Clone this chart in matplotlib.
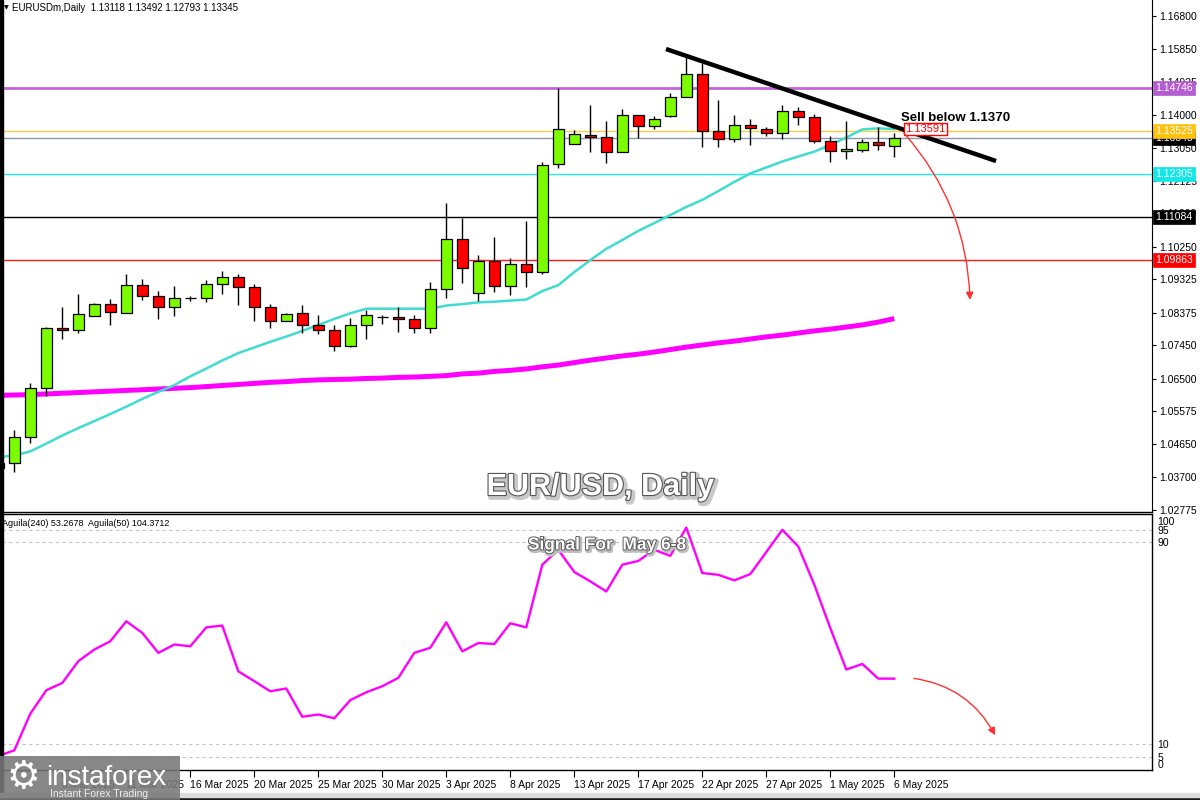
import matplotlib
matplotlib.use("Agg")
import matplotlib.pyplot as plt
import matplotlib.patheffects as pe
from matplotlib.patches import Rectangle, FancyArrowPatch
import matplotlib.transforms as mtransforms
import numpy as np

plt.rcParams['font.family'] = ['Liberation Sans', 'DejaVu Sans']

# ---------------- data ----------------
# candle index -1 is the partially visible first bar
opens = [1.0397, 1.0410, 1.0484, 1.0623, 1.0793, 1.0788, 1.0829, 1.0862, 1.0838, 1.0915,
         1.0886, 1.0855, 1.0880, 1.0880, 1.0918, 1.0938, 1.0911, 1.0853, 1.0813, 1.0836,
         1.0803, 1.0788, 1.0742, 1.0802, 1.0826, 1.0825, 1.0819, 1.0793, 1.0904, 1.1046,
         1.0893, 1.0984, 1.0914, 1.0977, 1.0952, 1.1259, 1.1316, 1.1343, 1.1336, 1.1295,
         1.1398, 1.1369, 1.1395, 1.1449, 1.1515, 1.1353, 1.1330, 1.1371, 1.1360, 1.1347,
         1.1409, 1.1392, 1.1324, 1.1296, 1.1299, 1.1321, 1.13118]
highs = [1.0418, 1.0505, 1.0637, 1.0796, 1.0855, 1.0891, 1.0864, 1.0877, 1.0947, 1.0932,
         1.0899, 1.0914, 1.0885, 1.0931, 1.0956, 1.0947, 1.0918, 1.0862, 1.0837, 1.0860,
         1.0831, 1.0803, 1.0823, 1.0845, 1.0830, 1.0853, 1.0831, 1.0925, 1.1149, 1.1107,
         1.1001, 1.1053, 1.0992, 1.1098, 1.1266, 1.1475, 1.1356, 1.1427, 1.1382, 1.1416,
         1.1399, 1.1397, 1.1461, 1.1564, 1.1546, 1.1442, 1.1398, 1.1388, 1.1366, 1.1426,
         1.1421, 1.1402, 1.1340, 1.1382, 1.1331, 1.1366, 1.13492]
lows = [1.0390, 1.0386, 1.0469, 1.0602, 1.0763, 1.0781, 1.0829, 1.0803, 1.0836, 1.0874,
        1.0820, 1.0828, 1.0872, 1.0869, 1.0891, 1.0860, 1.0815, 1.0795, 1.0813, 1.0781,
        1.0776, 1.0730, 1.0739, 1.0764, 1.0805, 1.0784, 1.0779, 1.0779, 1.0880, 1.0923,
        1.0871, 1.0897, 1.0889, 1.0911, 1.0948, 1.1248, 1.1316, 1.1295, 1.1264, 1.1293,
        1.1334, 1.1358, 1.1392, 1.1449, 1.1309, 1.1309, 1.1321, 1.1315, 1.1340, 1.1330,
        1.1371, 1.1319, 1.1266, 1.1275, 1.1293, 1.1299, 1.12793]
closes = [1.0411, 1.0484, 1.0623, 1.0793, 1.0788, 1.0833, 1.0862, 1.0839, 1.0915, 1.0886,
          1.0855, 1.0879, 1.0880, 1.0918, 1.0938, 1.0911, 1.0853, 1.0815, 1.0835, 1.0802,
          1.0788, 1.0742, 1.0802, 1.0830, 1.0826, 1.0819, 1.0793, 1.0904, 1.1046, 1.0964,
          1.0984, 1.0914, 1.0977, 1.0952, 1.1258, 1.1358, 1.1344, 1.1337, 1.1295, 1.1398,
          1.1369, 1.1387, 1.1449, 1.1515, 1.1353, 1.1330, 1.1371, 1.1363, 1.1347, 1.1409,
          1.1392, 1.1324, 1.1296, 1.1302, 1.1321, 1.1313, 1.13345]
ma_fast = [1.0428, 1.0432, 1.0444, 1.0466, 1.0489, 1.0510, 1.0530, 1.0550, 1.0571, 1.0593,
           1.0613, 1.0632, 1.0657, 1.0679, 1.0702, 1.0723, 1.0739, 1.0755, 1.0770, 1.0786,
           1.0803, 1.0820, 1.0836, 1.0849, 1.0849, 1.0849, 1.0849, 1.0849, 1.0858, 1.0862,
           1.0867, 1.0869, 1.0872, 1.0875, 1.0899, 1.0916, 1.0953, 1.0987, 1.1019, 1.1044,
           1.1070, 1.1092, 1.1115, 1.1138, 1.1158, 1.1183, 1.1209, 1.1233, 1.1250, 1.1267,
           1.1281, 1.1295, 1.1314, 1.1335, 1.1358, 1.1361, 1.1359]
ma_slow = [1.0603, 1.0604, 1.0605, 1.0607, 1.0609, 1.0611, 1.0613, 1.0615, 1.0617, 1.0619,
           1.0621, 1.0623, 1.0625, 1.0628, 1.0631, 1.0634, 1.0637, 1.0640, 1.0642, 1.0645,
           1.0647, 1.0648, 1.0649, 1.0651, 1.0652, 1.0654, 1.0655, 1.0657, 1.0659, 1.0664,
           1.0666, 1.0671, 1.0674, 1.0678, 1.0684, 1.0689, 1.0696, 1.0703, 1.0709, 1.0715,
           1.0720, 1.0726, 1.0733, 1.0740, 1.0746, 1.0752, 1.0757, 1.0763, 1.0769, 1.0774,
           1.0780, 1.0786, 1.0791, 1.0797, 1.0803, 1.0811, 1.0821]
aguila = [5.4, 7.6, 22.1, 31.4, 34.3, 42.9, 47.5, 50.8, 58.7, 54.1,
          46.2, 49.5, 48.8, 56.3, 57.0, 38.9, 35.0, 31.0, 32.1, 20.9,
          21.8, 20.3, 27.5, 30.6, 33.0, 36.3, 46.2, 48.2, 58.3, 46.8,
          50.1, 49.7, 57.9, 56.3, 81.1, 87.0, 78.2, 74.5, 70.5, 81.1,
          82.6, 87.0, 84.6, 95.8, 77.8, 77.1, 74.9, 77.4, 86.1, 94.9,
          88.3, 73.2, 56.0, 39.6, 41.8, 36.0, 36.0]

price_ticks = [1.16800, 1.15850, 1.14925, 1.14000, 1.13050, 1.12125, 1.11200, 1.10250,
               1.09325, 1.08375, 1.07450, 1.06500, 1.05575, 1.04650, 1.03700, 1.02775]
level_prices = [1.14746, 1.13525, 1.13345, 1.12305, 1.11084, 1.09863]
level_line_colors = ['#c266d6', '#f5cf45', '#8a97ad', '#22eeee', '#000000', '#ff1a1a']
level_box_colors = ['#b45cd2', '#ffc20e', '#000000', '#12e6e6', '#000000', '#ff0000']
level_box_z = [10, 12, 11, 10, 10, 10]
date_ticks = [3, 7, 11, 15, 19, 23, 27, 31, 35, 39, 43, 47, 51, 55]
date_labels = ['6 Mar 2025', '11 Mar 2025', '16 Mar 2025', '20 Mar 2025', '25 Mar 2025',
               '30 Mar 2025', '3 Apr 2025', '8 Apr 2025', '13 Apr 2025', '17 Apr 2025',
               '22 Apr 2025', '27 Apr 2025', '1 May 2025', '6 May 2025']
ind_levels = [95, 90, 10, 5]
ind_ticks = [0, 5, 10, 90, 95, 100]

ma_label_value = 1.13591
trend_x = [40.73, 61.36]
trend_y = [1.15863, 1.12683]
sell_text_pos = (55.42, 1.13904)
arrow_main = ((55.6, 1.1348), (59.73, 1.0874))
arrow_ind = ((56.23, 36.1), (61.3, 13.6))

# ---------------- figure ----------------
W, H = 1200, 800
fig = plt.figure(figsize=(12, 8), dpi=100, facecolor='white')

def fx(px):
    return px / W

def fy(py):
    return 1 - py / H

left_px, right_px = 2, 1152
ax1 = fig.add_axes([fx(left_px), fy(511.5), fx(right_px - left_px), 511.5 / H])
ax2 = fig.add_axes([fx(left_px), fy(770), fx(right_px - left_px), (770 - 514) / H])

x = np.arange(-1, len(opens) - 1)
xlim = ((left_px - 14.3) / 16.0, (right_px - 14.3) / 16.0)

# ----- main panel -----
ax1.set_xlim(*xlim)
ax1.set_ylim(1.02733, 1.172542)
for sp in ['top', 'left']:
    ax1.spines[sp].set_visible(False)
ax1.spines['bottom'].set_color('black')
ax1.spines['right'].set_color('black')
ax1.spines['bottom'].set_linewidth(1.0)

for p, c in zip(level_prices, level_line_colors):
    lw = 2.0 if p == level_prices[0] else 1.0
    ax1.axhline(p, color=c, lw=lw, zorder=1)

ax1.plot(x, ma_slow, color='#ff00ff', lw=3.6, zorder=2, solid_capstyle='butt')
ax1.plot(x, ma_fast, color='#40dccf', lw=1.8, zorder=2)

o = np.array(opens); c = np.array(closes); hi = np.array(highs); lo = np.array(lows)
ax1.vlines(x, lo, hi, color='black', lw=1.0, zorder=3)
body_bottom = np.minimum(o, c)
body_h = np.abs(c - o)
colors = np.where(c > o, '#7cfc00', np.where(c < o, '#ff0000', 'black'))
ax1.bar(x, body_h, bottom=body_bottom, width=0.66, color=colors, edgecolor='black',
        linewidth=0.9, zorder=4)

ax1.plot(trend_x, trend_y, color='black', lw=3.2, zorder=6, solid_capstyle='butt')

ax1.text(sell_text_pos[0], sell_text_pos[1], 'Sell below 1.1370', fontsize=9.5,
         fontweight='bold', color='black', ha='left', va='center', zorder=7)
ax1.text(55.7, ma_label_value, '1.13591', fontsize=8, color='#ff0000', ha='left',
         va='center', zorder=7,
         bbox=dict(boxstyle='square,pad=0.1', fc='white', ec='#ff0000', lw=1))

arr1 = FancyArrowPatch(arrow_main[0], arrow_main[1], connectionstyle='arc3,rad=-0.18',
                       arrowstyle='-|>', mutation_scale=11, color='#ff3030', lw=1.0,
                       shrinkA=0, shrinkB=0, zorder=7)
ax1.add_patch(arr1)

ax1.set_xticks([])
ax1.yaxis.tick_right()
ax1.set_yticks(price_ticks)
ax1.set_yticklabels([f'{t:.5f}' for t in price_ticks])
ax1.tick_params(axis='y', direction='out', length=3, width=0.8, pad=2, labelsize=7.5,
                colors='black')

trans1 = mtransforms.blended_transform_factory(ax1.transAxes, ax1.transData)
for p, bc, z in zip(level_prices, level_box_colors, level_box_z):
    ax1.text(1.0 + 3.5 / 1150, p, f'{p:.5f}', transform=trans1, fontsize=7.5,
             color='white', ha='left', va='center', clip_on=False, zorder=z,
             bbox=dict(boxstyle='square,pad=0.2', fc=bc, ec=bc, lw=0.5))

# ----- indicator panel -----
ax2.set_xlim(*xlim)
ax2.set_ylim(-0.17, 101.17)
ax2.spines['left'].set_visible(False)
for sp in ['top', 'bottom', 'right']:
    ax2.spines[sp].set_color('black')
    ax2.spines[sp].set_linewidth(1.0)
for v in ind_levels:
    ax2.axhline(v, color='#c4c4c4', lw=0.8, ls=(0, (3, 3)), zorder=1)
ax2.plot(x, aguila, color='#ff00ff', lw=1.7, zorder=3)

arr2 = FancyArrowPatch(arrow_ind[0], arrow_ind[1], connectionstyle='arc3,rad=-0.25',
                       arrowstyle='-|>', mutation_scale=11, color='#ff3030', lw=1.0,
                       shrinkA=0, shrinkB=0, zorder=7)
ax2.add_patch(arr2)

ax2.yaxis.tick_right()
ax2.set_yticks(ind_ticks)
ax2.set_yticklabels([str(t) for t in ind_ticks])
ax2.tick_params(axis='y', direction='out', length=0, pad=4, labelsize=7.5)
for lbl in ax2.get_yticklabels():
    if lbl.get_text() == '100':
        lbl.set_va('top')
    elif lbl.get_text() == '0':
        lbl.set_va('bottom')

ax2.set_xticks(date_ticks)
ax2.set_xticklabels(date_labels)
ax2.tick_params(axis='x', direction='out', length=5, width=0.8, pad=2, labelsize=7.5)
for lbl in ax2.get_xticklabels():
    lbl.set_ha('left')

# ----- figure texts -----
fx_effects = [pe.Stroke(linewidth=4, foreground='#c8c8c8', offset=(1.5, -1.5)),
              pe.Stroke(linewidth=1.6, foreground='#555555'), pe.Normal()]
fig.text(fx(600), fy(487), 'EUR/USD, Daily', fontsize=22, fontweight='bold', color='white',
         ha='center', va='center', path_effects=fx_effects, zorder=20)
fig.text(fx(607), fy(545), 'Signal For  May 6-8', fontsize=12.5, fontweight='bold',
         color='white', ha='center', va='center',
         path_effects=[pe.Stroke(linewidth=3, foreground='#bdbdbd', offset=(1, -1)),
                       pe.Stroke(linewidth=1.3, foreground='#555555'), pe.Normal()],
         zorder=20)
fig.text(fx(12), fy(8), 'EURUSDm,Daily  1.13118 1.13492 1.12793 1.13345', fontsize=7,
         ha='left', va='center', color='black')
fig.text(fx(4), fy(8), '\u25bc', fontsize=4.5, ha='left', va='center', color='black',
         family='DejaVu Sans')
fig.text(fx(2), fy(524), 'Aguila(240) 53.2678  Aguila(50) 104.3712', fontsize=6.5,
         ha='left', va='center', color='black', zorder=20)

# left frame, bottom bar
fig.patches.append(Rectangle((0, 0), fx(2.5), 1, transform=fig.transFigure,
                             color='black', zorder=5))
fig.patches.append(Rectangle((0, 0), 1, 3 / H, transform=fig.transFigure,
                             color='#1a1a1a', zorder=5))
fig.patches.append(Rectangle((0, 3 / H), 1, 4 / H, transform=fig.transFigure,
                             color='#dcdcdc', zorder=5))

# logo
fig.patches.append(Rectangle((0, 0), fx(180), 44 / H, transform=fig.transFigure,
                             fc='#787878', ec='none', alpha=0.88, zorder=30))
fig.text(fx(23), fy(778), '\u2699', fontsize=27, color='white', ha='center', va='center',
         family='DejaVu Sans', zorder=31)
fig.text(fx(46), fy(785), 'instaforex', fontsize=20, color='white', ha='left',
         va='baseline', zorder=31)
fig.text(fx(50), fy(797), 'Instant Forex Trading', fontsize=7.5, color='#eeeeee',
         ha='left', va='baseline', zorder=31)

fig.savefig('out.png', dpi=100, facecolor='white')
